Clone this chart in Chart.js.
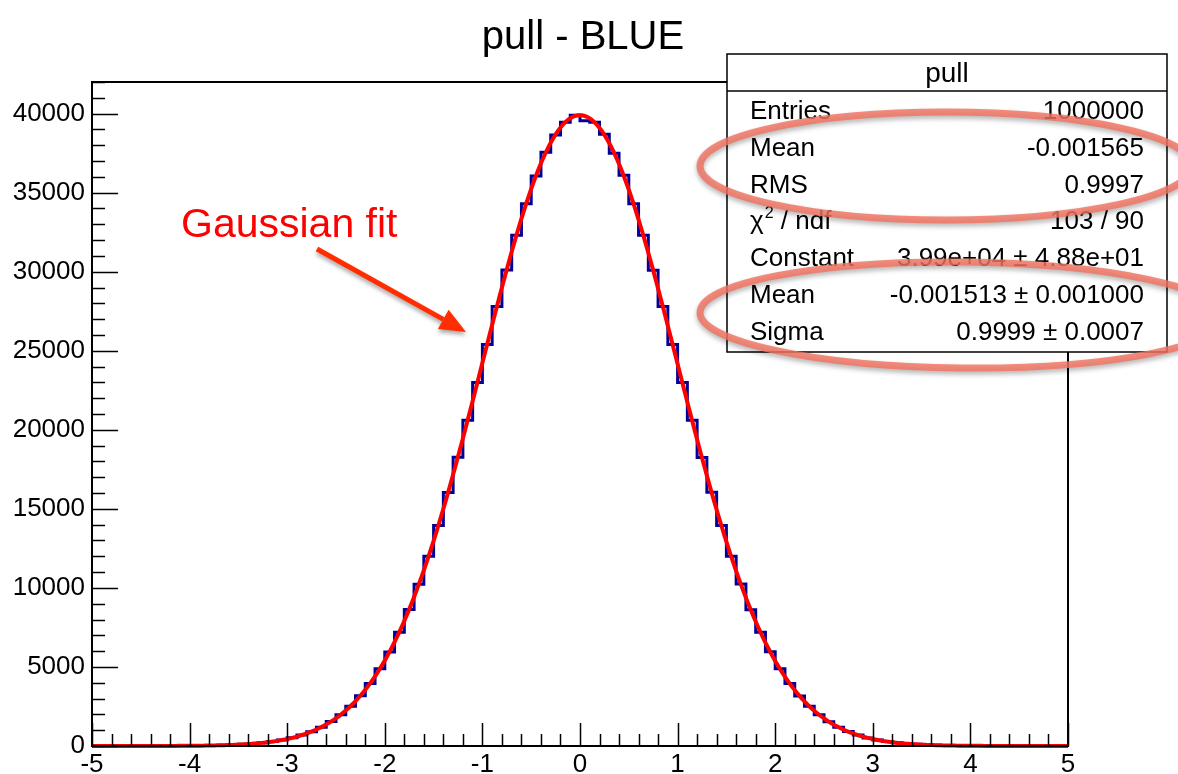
<!DOCTYPE html>
<html>
<head>
<meta charset="utf-8">
<title>pull - BLUE</title>
<script src="https://cdn.jsdelivr.net/npm/chart.js@4.4.1/dist/chart.umd.min.js"></script>
<style>
  html, body { margin: 0; padding: 0; background: #fff; }
  canvas { display: block; }
</style>
</head>
<body>
<canvas id="pull" width="1178" height="774"></canvas>
<script>
'use strict';

// ── Binning ──────────────────────────────────────────────────────────────────
const X_MIN = -5, X_MAX = 5, N_BINS = 100;
const BIN_W = (X_MAX - X_MIN) / N_BINS;

// bin contents, -5 … 0 then 0 … 5
const countsNeg = [0, 0, 1, 1, 2, 2, 3, 5, 7, 11,
  16, 24, 35, 50, 75, 105, 145, 200, 280, 380,
  515, 690, 905, 1190, 1550, 1980, 2520, 3180, 3950, 4890,
  5950, 7200, 8640, 10230, 12000, 13950, 16030, 18270, 20600, 23000,
  25400, 27800, 30110, 32300, 34300, 36050, 37550, 38650, 39450, 39900];
const countsPos = [39550, 39450, 38700, 37500, 36100, 34300, 32300, 30100, 27800, 25400,
  23000, 20600, 18250, 16050, 13950, 12000, 10250, 8620, 7200, 5960,
  4880, 3960, 3170, 2520, 1980, 1540, 1190, 910, 690, 510,
  380, 280, 200, 145, 105, 75, 50, 35, 24, 16,
  11, 7, 5, 3, 2, 2, 1, 1, 0, 0];
const counts = countsNeg.concat(countsPos);

// ── Fit parameters (gaus) ────────────────────────────────────────────────────
const fitConstant = 3.99e4;
const fitMean = -0.001513;
const fitSigma = 0.9999;

// ── Axes ─────────────────────────────────────────────────────────────────────
const Y_MAX = 42000;
const xMajor = [-5, -4, -3, -2, -1, 0, 1, 2, 3, 4, 5];
const yMajor = [0, 5000, 10000, 15000, 20000, 25000, 30000, 35000, 40000];

// ── Stats box ────────────────────────────────────────────────────────────────
const statsTitle = 'pull';
const statsLabels = ['Entries', 'Mean', 'RMS', 'CHI2', 'Constant', 'Mean', 'Sigma'];
const statsValues = ['1000000', '-0.001565', '0.9997', '103 / 90',
  '3.99e+04 \u00b1 4.88e+01', '-0.001513 \u00b1 0.001000', '0.9999 \u00b1 0.0007'];

const FONT = '"Liberation Sans", Arial, Helvetica, sans-serif';

// histogram outline: both edges of every bin
const histPoints = [];
counts.forEach((c, i) => {
  histPoints.push({ x: X_MIN + i * BIN_W, y: c });
  histPoints.push({ x: X_MIN + (i + 1) * BIN_W, y: c });
});

// fit curve sampled over the fit range
const fitPoints = [];
for (let k = 0; k <= 500; k++) {
  const x = X_MIN + k * (X_MAX - X_MIN) / 500;
  const u = (x - fitMean) / fitSigma;
  fitPoints.push({ x, y: fitConstant * Math.exp(-0.5 * u * u) });
}

// ── Decorations: frame, inner ticks, title, stats, notes ─────────────────────
const rootStyle = {
  id: 'rootStyle',
  afterDatasetsDraw(chart) {
    const { ctx, chartArea: a, scales: { x, y } } = chart;
    ctx.save();

    // frame
    ctx.strokeStyle = '#000';
    ctx.lineWidth = 2;
    ctx.strokeRect(a.left, a.top, a.right - a.left, a.bottom - a.top);

    // ticks pointing inward
    ctx.lineWidth = 1.5;
    ctx.beginPath();
    for (let v = 0; v <= Y_MAX; v += 1000) {
      const py = Math.round(y.getPixelForValue(v)) + 0.5;
      const len = v % 5000 === 0 ? 26 : 13;
      ctx.moveTo(a.left, py);
      ctx.lineTo(a.left + len, py);
    }
    for (let k = 0; k <= 50; k++) {
      const v = X_MIN + k * 0.2;
      const px = Math.round(x.getPixelForValue(v)) + 0.5;
      const len = k % 5 === 0 ? 23 : 12;
      ctx.moveTo(px, a.bottom);
      ctx.lineTo(px, a.bottom - len);
    }
    ctx.stroke();

    // title
    ctx.fillStyle = '#000';
    ctx.font = '40px ' + FONT;
    ctx.textAlign = 'center';
    ctx.textBaseline = 'alphabetic';
    ctx.fillText('pull - BLUE', 583, 49);

    // stats box
    const bx = 727, by = 54, bw = 440, bh = 298;
    ctx.fillStyle = '#fff';
    ctx.fillRect(bx, by, bw, bh);
    ctx.lineWidth = 1.5;
    ctx.strokeRect(bx, by, bw, bh);
    ctx.beginPath();
    ctx.moveTo(bx, 91);
    ctx.lineTo(bx + bw, 91);
    ctx.stroke();

    ctx.fillStyle = '#000';
    ctx.font = '28px ' + FONT;
    ctx.textAlign = 'center';
    ctx.fillText(statsTitle, bx + bw / 2, 82);

    ctx.font = '26px ' + FONT;
    statsLabels.forEach((lab, i) => {
      const base = 119 + i * 36.8;
      ctx.textAlign = 'left';
      if (lab === 'CHI2') {
        ctx.font = '26px ' + FONT;
        ctx.fillText('\u03c7', 750, base);
        const w = ctx.measureText('\u03c7').width;
        ctx.font = '16px ' + FONT;
        ctx.fillText('2', 750 + w + 1, base - 11);
        ctx.font = '26px ' + FONT;
        ctx.fillText(' / ndf', 750 + w + 10, base);
      } else {
        ctx.fillText(lab, 750, base);
      }
      ctx.textAlign = 'right';
      ctx.fillText(statsValues[i], 1144, base);
    });

    // highlight rings
    ctx.shadowColor = 'rgba(0,0,0,0.35)';
    ctx.shadowBlur = 5;
    ctx.shadowOffsetY = 3;
    ctx.strokeStyle = 'rgba(240,115,95,0.82)';
    ctx.lineWidth = 7;
    ctx.beginPath();
    ctx.ellipse(946, 166, 246, 54, 0, 0, Math.PI * 2);
    ctx.stroke();
    ctx.beginPath();
    ctx.ellipse(962, 315, 262, 53, 0.01, 0, Math.PI * 2);
    ctx.stroke();

    // "Gaussian fit" note and arrow
    ctx.shadowColor = 'rgba(0,0,0,0)';
    ctx.fillStyle = '#ff0000';
    ctx.font = '41px ' + FONT;
    ctx.textAlign = 'left';
    ctx.fillText('Gaussian fit', 181, 237);

    ctx.shadowColor = 'rgba(0,0,0,0.35)';
    ctx.shadowBlur = 4;
    ctx.shadowOffsetY = 3;
    const x0 = 317, y0 = 249, x1 = 466, y1 = 332;
    const ang = Math.atan2(y1 - y0, x1 - x0);
    const headLen = 26, headW = 11;
    const sx = x1 - headLen * Math.cos(ang), sy = y1 - headLen * Math.sin(ang);
    ctx.strokeStyle = '#ff2d00';
    ctx.fillStyle = '#ff2d00';
    ctx.lineWidth = 5;
    ctx.lineCap = 'butt';
    ctx.beginPath();
    ctx.moveTo(x0, y0);
    ctx.lineTo(sx, sy);
    ctx.stroke();
    ctx.beginPath();
    ctx.moveTo(x1, y1);
    ctx.lineTo(sx + headW * Math.sin(ang), sy - headW * Math.cos(ang));
    ctx.lineTo(sx - headW * Math.sin(ang), sy + headW * Math.cos(ang));
    ctx.closePath();
    ctx.fill();

    ctx.restore();
  }
};

new Chart(document.getElementById('pull'), {
  type: 'line',
  data: {
    datasets: [
      {
        label: 'pull',
        data: histPoints,
        borderColor: '#000099',
        borderWidth: 3,
        pointRadius: 0,
        tension: 0,
        fill: false,
        clip: 4,
        order: 2
      },
      {
        label: 'gaus',
        data: fitPoints,
        borderColor: '#ff0000',
        borderWidth: 4,
        pointRadius: 0,
        tension: 0,
        fill: false,
        clip: 4,
        order: 1
      }
    ]
  },
  options: {
    responsive: false,
    animation: false,
    devicePixelRatio: 1,
    layout: { padding: { top: 82, right: 110, left: 0, bottom: 0 } },
    plugins: {
      legend: { display: false },
      tooltip: { enabled: false },
      title: { display: false }
    },
    scales: {
      x: {
        type: 'linear',
        min: X_MIN,
        max: X_MAX,
        grid: { display: false, drawTicks: false },
        border: { display: false },
        afterBuildTicks: s => { s.ticks = xMajor.map(v => ({ value: v })); },
        afterFit: s => { s.height = 28; },
        ticks: {
          color: '#000',
          font: { family: FONT, size: 26 },
          padding: 3,
          maxRotation: 0,
          autoSkip: false,
          callback: v => String(v)
        }
      },
      y: {
        type: 'linear',
        min: 0,
        max: Y_MAX,
        grid: { display: false, drawTicks: false },
        border: { display: false },
        afterBuildTicks: s => { s.ticks = yMajor.map(v => ({ value: v })); },
        afterFit: s => { s.width = 92; },
        ticks: {
          color: '#000',
          font: { family: FONT, size: 26 },
          padding: 7,
          callback: v => String(v)
        }
      }
    }
  },
  plugins: [rootStyle]
});
</script>
</body>
</html>
